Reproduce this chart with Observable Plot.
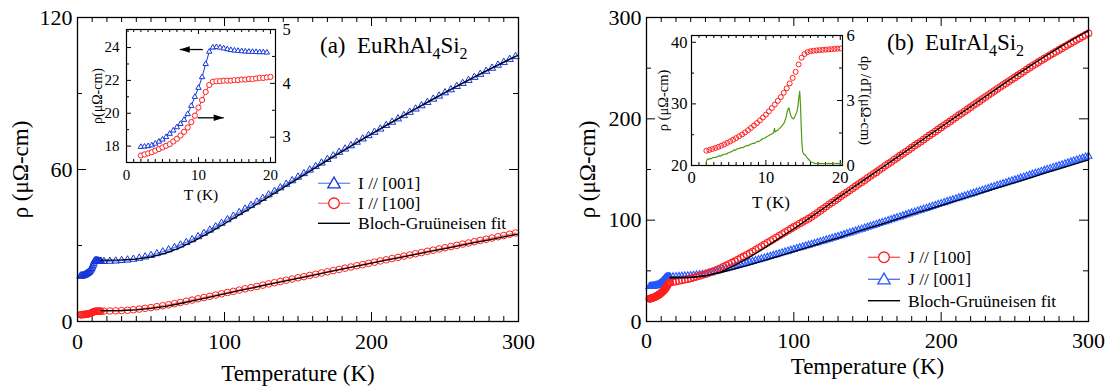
<!DOCTYPE html>
<html><head><meta charset="utf-8">
<script src="https://cdn.jsdelivr.net/npm/d3@7"></script>
<script src="https://cdn.jsdelivr.net/npm/@observablehq/plot@0.6"></script>
<style>
body{margin:0;background:#fff}
#root{position:relative;width:1108px;height:387px;overflow:hidden;background:#fff}
#root svg{position:absolute}
#root svg, #root svg text, #root svg tspan{font-family:'Liberation Serif','Times New Roman',serif !important}
</style></head><body><div id="root"></div>
<script>
// ---------------- DATA ----------------
// Panel (a) EuRhAl4Si2 : low-T data (also the inset), T in K
const TA_in = [2,2.5,3,3.5,4,4.5,5,5.5,6,6.5,7,7.5,8,8.5,9,9.5,10,10.5,11,11.5,12,12.5,13,13.5,14,14.5,15,15.5,16,16.5,17,17.5,18,18.5,19,19.5,20];
const blueA_in = [17.95,17.97,18.0,18.05,18.15,18.27,18.4,18.55,18.75,18.95,19.15,19.35,19.6,19.95,20.45,21.0,21.55,22.2,23.0,23.75,24.0,24.03,24.0,23.95,23.9,23.85,23.82,23.8,23.78,23.76,23.75,23.74,23.73,23.72,23.72,23.7];
const redA_in = [2.66,2.68,2.70,2.72,2.75,2.78,2.81,2.84,2.87,2.92,2.97,3.03,3.10,3.18,3.28,3.40,3.55,3.69,3.84,3.97,4.03,4.04,4.04,4.05,4.05,4.05,4.06,4.06,4.07,4.07,4.08,4.08,4.09,4.10,4.10,4.11,4.12];
// Panel (a) main, higher T
const TA_hi = [18,22,26,30,34,38,42,46,50,54,58,62,66,70,74,78,82,86,90,94,98,102,106,110,114,118,122,126,130,134,138,142,146,150,154,158,162,166,170,174,178,182,186,190,194,198,202,206,210,214,218,222,226,230,234,238,242,246,250,254,258,262,266,270,274,278,282,286,290,294,298];
const blueA_hi = [23.75,23.8,23.9,24.1,24.3,24.6,25.0,25.5,26.1,26.8,27.5,28.3,29.2,30.2,31.2,32.3,33.5,34.8,36.1,37.4,38.8,40.2,41.6,43.0,44.4,45.8,47.2,48.6,50.0,51.4,52.8,54.2,55.6,57.0,58.4,59.8,61.2,62.6,64.0,65.4,66.8,68.1,69.4,70.8,72.1,73.4,74.7,76.0,77.4,78.7,80.0,81.3,82.6,83.9,85.2,86.5,87.8,89.0,90.3,91.5,92.8,94.0,95.2,96.4,97.6,98.8,100.0,101.2,102.3,103.5,104.6];
const redA_hi = [4.10,4.15,4.2,4.3,4.45,4.65,4.9,5.2,5.5,5.85,6.2,6.6,7.05,7.5,8.0,8.45,8.95,9.45,9.95,10.45,10.95,11.45,11.9,12.4,12.9,13.35,13.85,14.35,14.85,15.3,15.8,16.3,16.75,17.25,17.7,18.2,18.65,19.15,19.6,20.1,20.55,21.05,21.5,22.0,22.45,22.95,23.4,23.9,24.35,24.85,25.3,25.8,26.25,26.75,27.2,27.7,28.15,28.65,29.1,29.6,30.05,30.55,31.0,31.5,32.0,32.45,32.95,33.45,33.95,34.45,34.95];
// Bloch-Grüneisen fits
const fitT = [16,20,30,40,50,60,70,80,90,100,110,120,130,140,150,160,170,180,190,200,210,220,230,240,250,260,270,280,290,300];
const fitBlueA = [24.2,24.2,24.3,24.6,25.5,27.0,29.2,32.0,35.2,38.6,42.1,45.6,49.2,52.8,56.4,60.0,63.6,67.1,70.6,74.0,77.4,80.7,84.0,87.2,90.4,93.5,96.5,99.5,102.4,105.2];
const fitRedA = [4.3,4.3,4.35,4.6,5.2,6.0,7.1,8.3,9.6,10.9,12.15,13.4,14.65,15.85,17.05,18.25,19.45,20.65,21.85,23.0,24.2,25.35,26.5,27.65,28.8,29.95,31.1,32.25,33.4,34.55];

// Panel (b) EuIrAl4Si2
const TB_in = [2.0,2.4,2.8,3.2,3.6,4.0,4.4,4.8,5.2,5.6,6.0,6.4,6.8,7.2,7.6,8.0,8.4,8.8,9.2,9.6,10.0,10.4,10.8,11.2,11.6,12.0,12.4,12.8,13.2,13.6,14.0,14.4,14.8,15.2,15.6,16.0,16.4,16.8,17.2,17.6,18.0,18.4,18.8,19.2,19.6,20.0];
const redB_in = [22.40,22.52,22.67,22.83,23.01,23.20,23.43,23.67,23.92,24.18,24.45,24.74,25.04,25.37,25.72,26.10,26.49,26.89,27.32,27.78,28.25,28.78,29.32,29.89,30.49,31.10,31.80,32.53,33.32,34.22,35.20,36.40,37.50,38.10,38.40,38.55,38.62,38.68,38.72,38.76,38.80,38.84,38.88,38.92,38.96,39.00];
const gT = [1.95,2.05,2.2,2.35,2.5,2.65,2.8,2.95,3.1,3.3,3.5,3.7,3.9,4.1,4.3,4.5,4.7,4.9,5.1,5.3,5.5,5.7,5.9,6.1,6.3,6.5,6.7,6.9,7.1,7.3,7.5,7.7,7.9,8.1,8.3,8.5,8.7,8.9,9.1,9.3,9.5,9.7,9.9,10.1,10.3,10.5,10.7,10.9,11.05,11.15,11.25,11.4,11.6,11.8,12.0,12.2,12.4,12.55,12.7,12.85,13.0,13.1,13.2,13.35,13.5,13.7,13.85,14.0,14.15,14.3,14.42,14.55,14.65,14.75,14.85,14.95,15.1,15.3,15.5,15.7,15.9,16.1,16.3,16.6,16.9,17.2,17.6,18.0,18.4,18.8,19.2,19.6,20.0,20.3];
const dRdT = [0.08,0.25,0.30,0.28,0.33,0.31,0.35,0.37,0.38,0.37,0.42,0.44,0.43,0.48,0.50,0.53,0.52,0.58,0.60,0.63,0.66,0.72,0.70,0.76,0.78,0.80,0.83,0.82,0.87,0.90,0.93,0.92,0.98,1.00,1.03,1.02,1.08,1.12,1.10,1.17,1.22,1.25,1.27,1.33,1.36,1.41,1.43,1.48,1.52,1.72,1.55,1.60,1.63,1.70,1.76,1.85,1.93,2.05,2.20,2.45,2.62,2.66,2.50,2.30,2.20,2.15,2.22,2.35,2.45,2.70,3.10,3.42,2.80,1.80,1.00,0.62,0.52,0.48,0.38,0.30,0.22,0.16,0.14,0.10,0.08,0.10,0.09,0.08,0.10,0.09,0.08,0.10,0.09,0.08];
const TB_lowBlue = [2,2.5,3,3.5,4,4.5,5,5.5,6,6.5,7,7.5,8,8.5,9,9.5,10,10.5,11,11.5,12,12.5,13,13.5,14,14.5,15,15.5,16];
const blueB_low = [34.5,34.5,34.6,34.7,34.8,34.9,35.0,35.1,35.3,35.5,35.7,36.0,36.3,36.7,37.2,37.8,38.4,39.1,39.9,40.7,41.6,42.4,43.2,43.7,43.9,44.0,44.0,44.0,44.0];
// [T, rho] pairs above 16 K
const redB_hi = [[18,38.9],[20,39.4],[22,40.0],[24,40.6],[26,41.2],[28,41.8],[30,42.5],[32,43.3],[34,44.1],[36,44.9],[38,45.8],[40,46.7],
 [42,47.8],[44,48.9],[46,50.1],[48,51.3],[50,52.5],[52,53.9],[54,55.3],[56,56.7],[58,58.1],[60,59.5],[62,61.1],[64,62.7],[66,64.2],[68,65.8],[70,67.4],
 [72,69.1],[74,70.8],[76,72.5],[78,74.2],[80,75.9],[82,77.6],[84,79.4],[86,81.1],[88,82.9],[90,84.6],[92,86.3],[94,88.1],[96,89.8],[98,91.6],[100,93.3],
 [102,95.0],[104,96.7],[106,98.3],[108,99.9],[110,101.5],[112,103.3],[114,105.3],[116,107.3],[118,109.4],[120,111.5],[122,113.5],[124,115.6],[126,117.5],[128,119.4],[130,121.5],
 [132,123.5],[134,125.6],[136,127.5],[138,129.4],[140,131.5],[142,133.5],[144,135.6],[146,137.5],[148,139.4],[150,141.5],[152,143.6],[154,145.5],[156,147.4],[158,149.5],[160,151.5],
 [162,153.6],[164,155.5],[166,157.4],[168,159.5],[170,161.5],[172,163.6],[174,165.5],[176,167.4],[178,169.5],[180,171.5],[182,173.6],[184,175.5],[186,177.4],[188,179.5],[190,181.5],
 [192,183.6],[194,185.5],[196,187.4],[198,189.5],[200,191.5],[202,193.6],[204,195.5],[206,197.4],[208,199.5],[210,201.5],[212,203.6],[214,205.5],[216,207.4],[218,209.5],[220,211.5],
 [222,213.6],[224,215.5],[226,217.4],[228,219.5],[230,221.5],[232,223.5],[234,225.4],[236,227.4],[238,229.4],[240,231.4],[242,233.3],[244,235.2],[246,237.1],[248,239.0],[250,240.9],
 [252,242.8],[254,244.7],[256,246.7],[258,248.6],[260,250.5],[262,252.3],[264,254.1],[266,255.9],[268,257.7],[270,259.5],[272,261.2],[274,262.9],[276,264.6],[278,266.3],[280,268.0],
 [282,269.7],[284,271.4],[286,273.0],[288,274.7],[290,276.4],[292,278.0],[294,279.6],[296,281.2],[298,282.8],[300,284.4]];
const blueB_hi = [[18,44.2],[20,44.3],[22,44.5],[24,44.7],[26,44.9],[28,45.1],[30,45.3],[32,45.6],[34,45.9],[36,46.3],[38,46.6],[40,47.0],
 [42,47.6],[44,48.3],[46,49.1],[48,49.8],[50,50.6],[52,51.4],[54,52.2],[56,53.0],[58,53.8],[60,54.6],[62,55.4],[64,56.2],[66,57.0],[68,57.8],[70,58.6],
 [72,59.4],[74,60.2],[76,61.0],[78,61.8],[80,62.6],[82,63.5],[84,64.3],[86,65.2],[88,66.0],[90,66.9],[92,67.8],[94,68.6],[96,69.5],[98,70.3],[100,71.2],
 [102,72.0],[104,72.8],[106,73.7],[108,74.5],[110,75.3],[112,76.2],[114,77.0],[116,77.9],[118,78.7],[120,79.6],[122,80.5],[124,81.3],[126,82.2],[128,83.0],[130,83.9],
 [132,84.8],[134,85.7],[136,86.6],[138,87.5],[140,88.4],[142,89.3],[144,90.3],[146,91.2],[148,92.2],[150,93.1],[152,94.0],[154,94.9],[156,95.9],[158,96.8],[160,97.7],
 [162,98.6],[164,99.6],[166,100.5],[168,101.5],[170,102.4],[172,103.3],[174,104.3],[176,105.2],[178,106.2],[180,107.1],[182,108.0],[184,109.0],[186,109.9],[188,110.8],[190,111.7],
 [192,112.6],[194,113.6],[196,114.5],[198,115.5],[200,116.4],[202,117.3],[204,118.3],[206,119.2],[208,120.2],[210,121.1],[212,122.0],[214,122.9],[216,123.9],[218,124.8],[220,125.7],
 [222,126.6],[224,127.6],[226,128.5],[228,129.5],[230,130.4],[232,131.3],[234,132.3],[236,133.2],[238,134.2],[240,135.1],[242,136.0],[244,136.9],[246,137.9],[248,138.8],[250,139.7],
 [252,140.6],[254,141.6],[256,142.5],[258,143.5],[260,144.4],[262,145.3],[264,146.3],[266,147.2],[268,148.2],[270,149.1],[272,150.0],[274,150.9],[276,151.9],[278,152.8],[280,153.7],
 [282,154.6],[284,155.6],[286,156.5],[288,157.5],[290,158.4],[292,159.3],[294,160.3],[296,161.2],[298,162.2],[300,163.1]];
const fitRedB = [43.4,43.4,43.6,45.0,48.5,55.5,63.5,72.5,82.0,91.5,101.5,111.5,122.0,132.0,142.0,152.0,162.0,172.0,182.0,192.0,202.0,212.0,222.0,232.0,242.0,251.8,261.2,270.3,279.0,287.0];
const fitBlueB = [43.4,43.4,43.6,45.2,48.2,52.0,56.0,60.2,64.6,69.0,73.5,78.0,82.6,87.2,91.8,96.4,101.0,105.6,110.1,114.6,119.1,123.6,128.1,132.6,137.1,141.6,146.1,150.6,155.1,159.6];

// arrows in inset (a): left arrow on left axis, right arrow on right axis
const arrowLeftA = [{x1: 10.6, x2: 7.4, y: 23.88}];
const arrowRightA = [{x1: 9.9, x2: 13.5, y: 3.36}];

// tick values / labels
const mainXTicks = [0,100,200,300];
const yTicksA = [0,60,120], yMinorA = [30,90];
const yTicksB = [0,100,200,300], yMinorB = [50,150,250];
const insetXTicks = [0,10,20];
const insetALeftTicks = [18,20,22,24], insetARightTicks = [3,4,5];
const insetBLeftTicks = [20,30,40], insetBRightTicks = [0,3,6];
const legendA = ["I // [001]", "I // [100]", "Bloch-Gruüneisen fit"];
const legendB = ["J // [100]", "J // [001]", "Bloch-Gruüneisen fit"];
const compoundA = ["(a)", "EuRhAl", "4", "Si", "2"];
const compoundB = ["(b)", "EuIrAl", "4", "Si", "2"];

// ---------------- HELPERS ----------------
const FONT = "'Liberation Serif','Times New Roman',serif";
const zipTV = (T, V) => V.map((v, i) => ({T: T[i], v}));
const fromPairs = P => P.map(([T, v]) => ({T, v}));
const BLUE = "#1637d8", LBLUE = "#6f93ee", RED = "#ff1f1f", LRED = "#ff8080";
const BLUE_B = "#2457ff", GREEN = "#4f9a12";
const fmt = d => String(d);
const mid = {textAnchor: "middle", lineAnchor: "middle"};

function frameTicks(xs, ys, fw, fh, len, which) {
  const m = [];
  const o = {stroke: "black", strokeWidth: 1};
  if (xs) {
    m.push(Plot.tickX(xs, {x: d => d, insetTop: fh - len, ...o}));
    m.push(Plot.tickX(xs, {x: d => d, insetBottom: fh - len, ...o}));
  }
  if (ys) {
    if (which !== "right") m.push(Plot.tickY(ys, {y: d => d, insetRight: fw - len, ...o}));
    if (which !== "left") m.push(Plot.tickY(ys, {y: d => d, insetLeft: fw - len, ...o}));
  }
  return m;
}
function place(el, left, top) {
  el.style.left = left + "px"; el.style.top = top + "px";
  document.getElementById("root").appendChild(el);
}
const baseStyle = {fontFamily: FONT, background: "transparent", color: "#000", overflow: "visible", maxWidth: "none"};

const arrowRight = {draw(ctx) { ctx.moveTo(0, 0); ctx.lineTo(-10, -3.2); ctx.lineTo(-10, 3.2); ctx.closePath(); }};
const arrowLeft = {draw(ctx) { ctx.moveTo(0, 0); ctx.lineTo(10, -3.2); ctx.lineTo(10, 3.2); ctx.closePath(); }};

function addCompound(svg, parts, xa, xb, y, fs, fsub) {
  const t = d3.select(svg).append("text").attr("font-family", FONT).attr("font-size", fs)
    .attr("y", y).attr("fill", "black").attr("text-anchor", "start");
  t.append("tspan").attr("x", xa).text(parts[0]);
  t.append("tspan").attr("x", xb).text(parts[1]);
  t.append("tspan").attr("font-size", fsub).attr("dy", 6).text(parts[2]);
  t.append("tspan").attr("dy", -6).text(parts[3]);
  t.append("tspan").attr("font-size", fsub).attr("dy", 6).text(parts[4]);
}
function addLegend(svg, rows, x0, x1, xt, fs) {
  const g = d3.select(svg).append("g").attr("font-family", FONT).attr("font-size", fs).attr("text-anchor", "start");
  const xm = (x0 + x1) / 2;
  rows.forEach(r => {
    g.append("line").attr("x1", x0).attr("x2", x1).attr("y1", r.y).attr("y2", r.y)
      .attr("stroke", r.line).attr("stroke-width", 1.4);
    if (r.sym === "circle")
      g.append("circle").attr("cx", xm).attr("cy", r.y).attr("r", 5.3).attr("fill", "white").attr("stroke", r.color).attr("stroke-width", 1.3);
    if (r.sym === "triangle")
      g.append("path").attr("d", d3.symbol(d3.symbolTriangle, 66)()).attr("transform", `translate(${xm},${r.y + 1})`)
        .attr("fill", "white").attr("stroke", r.color).attr("stroke-width", 1.3);
    g.append("text").attr("x", xt).attr("y", r.y).attr("dy", "0.35em").attr("fill", "black").text(r.label);
  });
}

// ---------------- PANEL (a) MAIN ----------------
const blueA = zipTV(TA_in, blueA_in).filter(d => d.T <= 16).concat(zipTV(TA_hi, blueA_hi));
const redA = zipTV(TA_in, redA_in).filter(d => d.T <= 16).concat(zipTV(TA_hi, redA_hi));
const minorX = d3.range(10, 300, 10).filter(d => d % 100 !== 0);

const mainA = Plot.plot({
  width: 560, height: 387, marginLeft: 77, marginRight: 42, marginTop: 17, marginBottom: 66,
  style: baseStyle,
  x: {domain: [0, 300], axis: null},
  y: {domain: [0, 120], axis: null},
  marks: [
    Plot.axisX({ticks: mainXTicks, tickSize: 0, tickPadding: 12, fontSize: 22, label: null, tickFormat: fmt}),
    Plot.axisY({ticks: yTicksA, tickSize: 0, tickPadding: 5, fontSize: 22, label: null, tickFormat: fmt}),
    ...frameTicks(mainXTicks, yTicksA, 441, 304, 9),
    ...frameTicks(minorX, yMinorA, 441, 304, 5),
    Plot.line(blueA, {x: "T", y: "v", stroke: LBLUE, strokeWidth: 1.6}),
    Plot.line(redA, {x: "T", y: "v", stroke: LRED, strokeWidth: 1.6}),
    Plot.dot(blueA, {x: "T", y: "v", symbol: "triangle", r: 2.7, stroke: BLUE, fill: "none", strokeWidth: 1}),
    Plot.dot(redA, {x: "T", y: "v", r: 3.3, stroke: RED, fill: "none", strokeWidth: 1}),
    Plot.line(zipTV(fitT, fitBlueA), {x: "T", y: "v", stroke: "black", strokeWidth: 1.3}),
    Plot.line(zipTV(fitT, fitRedA), {x: "T", y: "v", stroke: "black", strokeWidth: 1.3}),
    Plot.frame({stroke: "black", strokeWidth: 1.3}),
    Plot.text(["Temperature (K)"], {text: d => d, frameAnchor: "bottom", dy: 52, fontSize: 23, ...mid}),
    Plot.text(["ρ (μΩ-cm)"], {text: d => d, frameAnchor: "left", dx: -57, rotate: -90, fontSize: 23, ...mid})
  ]
});
addCompound(mainA, compoundA, 320, 357, 53, 23, 16);
addLegend(mainA, [
  {y: 183.3, line: LBLUE, sym: "triangle", color: BLUE, label: legendA[0]},
  {y: 203.3, line: LRED, sym: "circle", color: RED, label: legendA[1]},
  {y: 223.3, line: "black", sym: null, label: legendA[2]}
], 318, 350, 358, 17.5);
place(mainA, 0, 0);

// ---------------- PANEL (a) INSET ----------------
const insetMinor = d3.range(0, 21, 1).filter(d => d % 10 !== 0);
const insetA_L = Plot.plot({
  width: 211, height: 188, marginLeft: 40, marginRight: 22, marginTop: 10, marginBottom: 45,
  style: baseStyle,
  x: {domain: [0, 20.7], axis: null},
  y: {domain: [17, 25.1], axis: null},
  marks: [
    Plot.axisX({ticks: insetXTicks, tickSize: 0, tickPadding: 7, fontSize: 15, label: null, tickFormat: fmt}),
    Plot.axisY({ticks: insetALeftTicks, tickSize: 0, tickPadding: 7, fontSize: 15, label: null, tickFormat: fmt}),
    ...frameTicks(insetXTicks, insetALeftTicks, 149, 133, 5, "left"),
    ...frameTicks(insetMinor, [17, 19, 21, 23, 25], 149, 133, 3, "left"),
    Plot.line(zipTV(TA_in, blueA_in), {x: "T", y: "v", stroke: BLUE, strokeWidth: 1}),
    Plot.dot(zipTV(TA_in, blueA_in), {x: "T", y: "v", symbol: "triangle", r: 2.0, stroke: BLUE, fill: "white", strokeWidth: 1}),
    Plot.link(arrowLeftA, {x1: "x1", x2: "x2", y1: "y", y2: "y", stroke: "black", strokeWidth: 1.3}),
    Plot.dot(arrowLeftA, {x: "x2", y: "y", symbol: arrowLeft, r: 3, fill: "black", stroke: "none"}),
    Plot.frame({stroke: "black", strokeWidth: 1.2}),
    Plot.text(["T (K)"], {text: d => d, frameAnchor: "bottom", dy: 33, fontSize: 15.5, ...mid}),
    Plot.text(["ρ(μΩ-cm)"], {text: d => d, frameAnchor: "left", dx: -29, rotate: -90, fontSize: 14, ...mid})
  ]
});
place(insetA_L, 86, 19);
const insetA_R = Plot.plot({
  width: 211, height: 188, marginLeft: 40, marginRight: 22, marginTop: 10, marginBottom: 45,
  style: baseStyle,
  x: {domain: [0, 20.7], axis: null},
  y: {domain: [2.53, 5.0], axis: null},
  marks: [
    Plot.axisY({anchor: "right", ticks: insetARightTicks, tickSize: 0, tickPadding: 7, fontSize: 16.5, label: null, tickFormat: fmt}),
    ...frameTicks(null, insetARightTicks, 149, 133, 5, "right"),
    ...frameTicks(null, [3.5, 4.5], 149, 133, 3, "right"),
    Plot.line(zipTV(TA_in, redA_in), {x: "T", y: "v", stroke: RED, strokeWidth: 1}),
    Plot.dot(zipTV(TA_in, redA_in), {x: "T", y: "v", r: 2.6, stroke: RED, fill: "white", strokeWidth: 1}),
    Plot.link(arrowRightA, {x1: "x1", x2: "x2", y1: "y", y2: "y", stroke: "black", strokeWidth: 1.3}),
    Plot.dot(arrowRightA, {x: "x2", y: "y", symbol: arrowRight, r: 3, fill: "black", stroke: "none"})
  ]
});
place(insetA_R, 86, 19);

// ---------------- PANEL (b) MAIN ----------------
const redB = zipTV(TB_in, redB_in).filter(d => d.T <= 16).concat(fromPairs(redB_hi));
const blueB = zipTV(TB_lowBlue, blueB_low).concat(fromPairs(blueB_hi));
const mainB = Plot.plot({
  width: 548, height: 387, marginLeft: 86, marginRight: 20, marginTop: 17, marginBottom: 66,
  style: baseStyle,
  x: {domain: [0, 300], axis: null},
  y: {domain: [0, 300], axis: null},
  marks: [
    Plot.axisX({ticks: mainXTicks, tickSize: 0, tickPadding: 10.5, fontSize: 22, label: null, tickFormat: fmt}),
    Plot.axisY({ticks: yTicksB, tickSize: 0, tickPadding: 5, fontSize: 22, label: null, tickFormat: fmt}),
    ...frameTicks(mainXTicks, yTicksB, 442, 304, 9),
    ...frameTicks(minorX, yMinorB, 442, 304, 5),
    Plot.dot(blueB, {x: "T", y: "v", symbol: "triangle", r: 2.6, stroke: BLUE_B, fill: "none", strokeWidth: 1.1}),
    Plot.dot(redB, {x: "T", y: "v", r: 3.3, stroke: RED, fill: "none", strokeWidth: 1.1}),
    Plot.line(zipTV(fitT, fitBlueB), {x: "T", y: "v", stroke: "black", strokeWidth: 1.3}),
    Plot.line(zipTV(fitT, fitRedB), {x: "T", y: "v", stroke: "black", strokeWidth: 1.3}),
    Plot.frame({stroke: "black", strokeWidth: 1.3}),
    Plot.text(["Temperature (K)"], {text: d => d, frameAnchor: "bottom", dy: 45, fontSize: 23, ...mid}),
    Plot.text(["ρ (μΩ-cm)"], {text: d => d, frameAnchor: "left", dx: -59, rotate: -90, fontSize: 23, ...mid})
  ]
});
addCompound(mainB, compoundB, 327, 365, 49.5, 23, 16);
addLegend(mainB, [
  {y: 257.3, line: "#ff5a5a", sym: "circle", color: RED, label: legendB[0]},
  {y: 279.3, line: "#4f7af2", sym: "triangle", color: BLUE_B, label: legendB[1]},
  {y: 300.7, line: "black", sym: null, label: legendB[2]}
], 308, 340, 348, 17.5);
place(mainB, 560, 0);

// ---------------- PANEL (b) INSET ----------------
const insetB_L = Plot.plot({
  width: 231, height: 188, marginLeft: 40, marginRight: 40, marginTop: 10, marginBottom: 48,
  style: baseStyle,
  x: {domain: [0, 20.3], axis: null},
  y: {domain: [20, 41.1], axis: null},
  marks: [
    Plot.axisX({ticks: insetXTicks, tickSize: 0, tickPadding: 5.5, fontSize: 16.5, label: null, tickFormat: fmt}),
    Plot.axisY({ticks: insetBLeftTicks, tickSize: 0, tickPadding: 4, fontSize: 16.5, label: null, tickFormat: fmt}),
    ...frameTicks(insetXTicks, insetBLeftTicks, 151, 130, 5, "left"),
    ...frameTicks(insetMinor, [25, 35], 151, 130, 3, "left"),
    Plot.dot(zipTV(TB_in, redB_in), {x: "T", y: "v", r: 2.5, stroke: RED, fill: "none", strokeWidth: 1}),
    Plot.frame({stroke: "black", strokeWidth: 1.2}),
    Plot.text(["T (K)"], {text: d => d, frameAnchor: "bottom", dy: 37, dx: 4, fontSize: 17, ...mid}),
    Plot.text(["ρ (μΩ-cm)"], {text: d => d, frameAnchor: "left", dx: -28, rotate: -90, fontSize: 14.5, ...mid})
  ]
});
place(insetB_L, 651, 25);
const insetB_R = Plot.plot({
  width: 231, height: 188, marginLeft: 40, marginRight: 40, marginTop: 10, marginBottom: 48,
  style: baseStyle,
  x: {domain: [0, 20.3], axis: null},
  y: {domain: [0, 6], axis: null},
  marks: [
    Plot.axisY({anchor: "right", ticks: insetBRightTicks, tickSize: 0, tickPadding: 4, fontSize: 16.5, label: null, tickFormat: fmt}),
    ...frameTicks(null, insetBRightTicks, 151, 130, 5, "right"),
    ...frameTicks(null, [1.5, 4.5], 151, 130, 3, "right"),
    Plot.line(zipTV(gT, dRdT), {x: "T", y: "v", stroke: GREEN, strokeWidth: 1.2}),
    Plot.text(["dρ /dT(μΩ-cm)"], {text: d => d, frameAnchor: "right", dx: 23, rotate: 90, fontSize: 14.5, ...mid})
  ]
});
place(insetB_R, 651, 25);
</script></body></html>
